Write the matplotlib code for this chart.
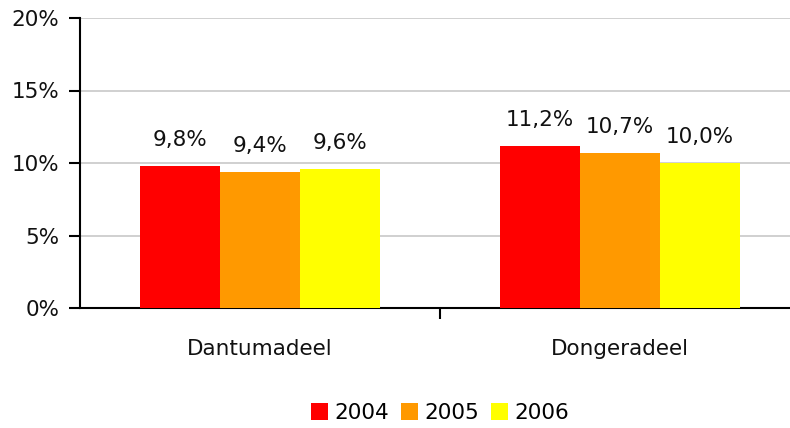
import numpy as np
import matplotlib.pyplot as plt
from matplotlib.ticker import FuncFormatter

categories = ['Dantumadeel', 'Dongeradeel']
years = ['2004', '2005', '2006']
values = {
    '2004': [9.8, 11.2],
    '2005': [9.4, 10.7],
    '2006': [9.6, 10.0],
}
colors = ['#ff0000', '#ff9900', '#ffff00']

plt.rcParams['font.family'] = ['DejaVu Sans']
fs = 15.5

fig = plt.figure(figsize=(7.9, 4.28), dpi=100)
ax = fig.add_axes([80/790, 120/428, 720/790, 290/428])

x = np.arange(len(categories))
w = 80/360
for i, yr in enumerate(years):
    pos = x + (i - 1) * w
    bars = ax.bar(pos, values[yr], w, color=colors[i], label=yr, zorder=3)
    for b, v in zip(bars, values[yr]):
        ax.text(b.get_x() + b.get_width()/2, v + 1.1, f'{v:.1f}%'.replace('.', ','),
                ha='center', va='bottom', fontsize=fs, color='#111111')

ax.set_xlim(-0.5, 1.5)
ax.set_ylim(0, 20)
ax.set_yticks([0, 5, 10, 15, 20])
ax.yaxis.set_major_formatter(FuncFormatter(lambda v, p: f'{int(v)}%'))
ax.grid(axis='y', color='#c8c8c8', linewidth=1.2, zorder=0)
ax.spines['top'].set_visible(False)
ax.spines['right'].set_visible(False)
ax.spines['left'].set_linewidth(1.5)
ax.spines['bottom'].set_linewidth(1.5)
ax.tick_params(axis='y', length=8, width=1.5, labelsize=fs, pad=7, labelcolor='#111111')

# category separators on x axis
ax.set_xticks([0.5], minor=True)
ax.tick_params(axis='x', which='minor', length=8, width=1.5, direction='out')
ax.set_xticks(x)
ax.set_xticklabels(categories)
ax.tick_params(axis='x', which='major', length=0, labelsize=fs, pad=22, labelcolor='#111111')

ax.legend(loc='center', bbox_to_anchor=(360/720, -105/290), ncol=3, frameon=False,
          fontsize=fs, handlelength=0.8, handleheight=0.8, handletextpad=0.3,
          columnspacing=0.55)

fig.savefig('out.png', dpi=100)
